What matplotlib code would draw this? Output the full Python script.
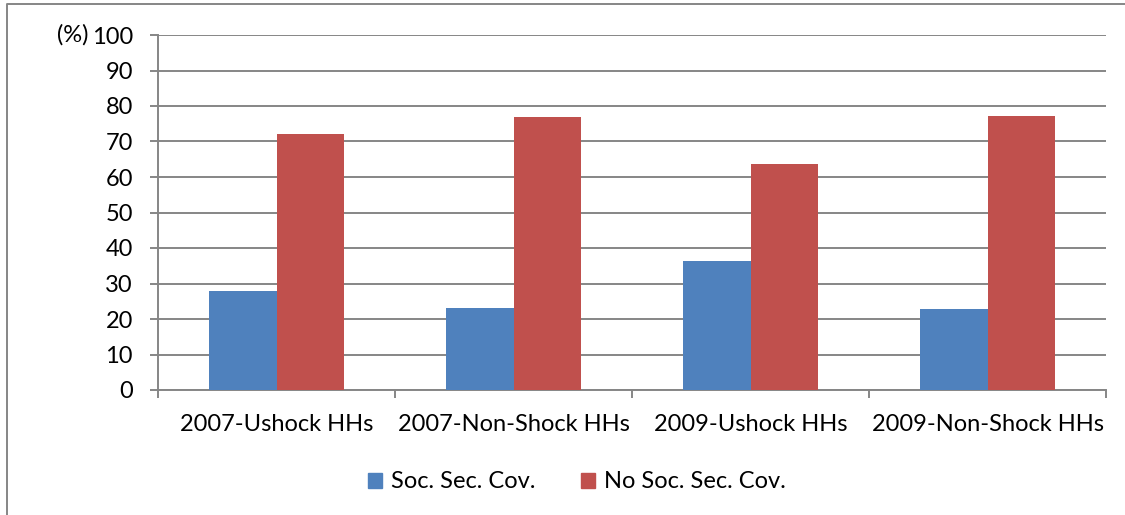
import matplotlib
matplotlib.use("Agg")
import matplotlib.pyplot as plt
import numpy as np
from matplotlib.lines import Line2D

categories = ["2007-Ushock HHs", "2007-Non-Shock HHs", "2009-Ushock HHs", "2009-Non-Shock HHs"]
soc_sec = [28.0, 23.0, 36.3, 22.8]
no_soc_sec = [72.0, 77.0, 63.7, 77.2]
series_names = ["Soc. Sec. Cov.", "No Soc. Sec. Cov."]
yticks = list(range(0, 101, 10))

plt.rcParams['font.family'] = ['Lato', 'DejaVu Sans']
FS = 17

W, H = 1125, 515
fig = plt.figure(figsize=(W / 100, H / 100), dpi=100)
ax = fig.add_axes([158 / W, 1 - 390 / H, (1106 - 158) / W, (390 - 35) / H])

x = np.arange(len(categories))
bw = 1 / 3.5
blue, red = "#4F81BD", "#C0504D"
ax.bar(x - bw / 2, soc_sec, bw, color=blue, label=series_names[0], zorder=3)
ax.bar(x + bw / 2, no_soc_sec, bw, color=red, label=series_names[1], zorder=3)

gray = "#868686"
ax.set_xlim(-0.5, len(categories) - 0.5)
ax.set_ylim(0, 100)
ax.set_yticks(yticks)
ax.set_yticklabels([str(v) for v in yticks], fontsize=FS)
ax.yaxis.grid(True, color=gray, linewidth=1.4, zorder=0)
ax.set_axisbelow(True)
for s in ["top", "right"]:
    ax.spines[s].set_visible(False)
ax.spines["left"].set_color(gray)
ax.spines["bottom"].set_color(gray)
ax.spines["left"].set_linewidth(1.4)
ax.spines["bottom"].set_linewidth(1.4)
ax.tick_params(axis="y", direction="out", length=6, color=gray, width=1.4, pad=12)

ax.set_xticks(x)
ax.set_xticklabels(categories, fontsize=FS)
ax.tick_params(axis="x", which="major", length=0, pad=17)
ax.set_xticks(np.arange(-0.5, len(categories), 1), minor=True)
ax.tick_params(axis="x", which="minor", direction="out", length=6, color=gray, width=1.4)

fig.text(89 / W, 1 - 35 / H, "(%)", ha="right", va="center", fontsize=FS)

handles = [plt.Rectangle((0, 0), 1, 1, color=blue), plt.Rectangle((0, 0), 1, 1, color=red)]
fig.legend(handles, series_names, loc="center", bbox_to_anchor=(577 / W, 1 - 482 / H),
           ncol=2, frameon=False, fontsize=FS, handlelength=0.6, handleheight=0.6,
           handletextpad=0.4, columnspacing=1.9)

# outer frame (partially visible)
fig.add_artist(Line2D([7 / W, 7 / W, 1.0], [0.0, 1 - 4 / H, 1 - 4 / H],
                      transform=fig.transFigure, color=gray, linewidth=1.4))

fig.savefig("out.png", dpi=100)
